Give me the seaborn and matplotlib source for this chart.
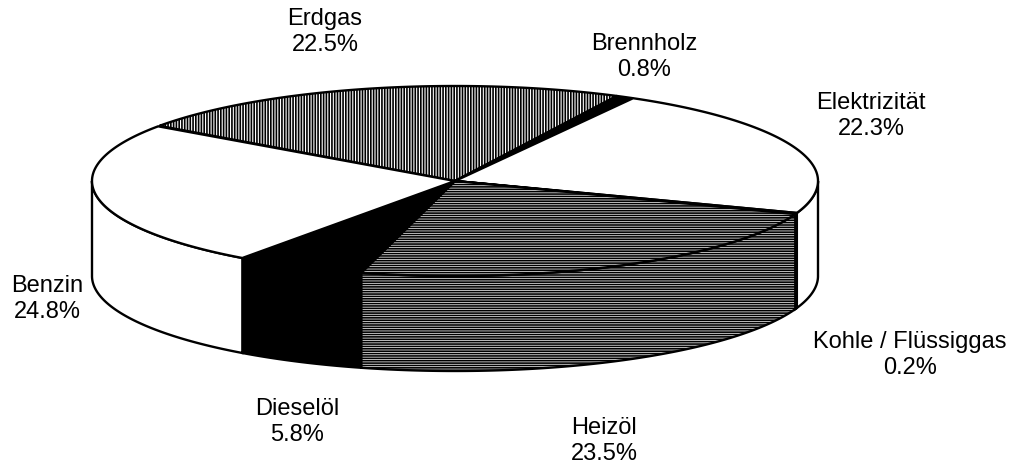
import numpy as np
import matplotlib
matplotlib.use("Agg")
import matplotlib.pyplot as plt
from matplotlib.patches import Polygon
import seaborn as sns

# Energy consumption shares (%), clockwise starting at Erdgas
categories = ["Erdgas", "Brennholz", "Elektrizität", "Kohle / Flüssiggas",
              "Heizöl", "Dieselöl", "Benzin"]
shares = [22.5, 0.8, 22.3, 0.2, 23.5, 5.8, 24.8]
pct_labels = ["22.5%", "0.8%", "22.3%", "0.2%", "23.5%", "5.8%", "24.8%"]

# fill style per slice: (facecolor, hatch)
styles = [("white", "||||||"), ("black", None), ("white", None), ("black", None),
          ("white", "-------"), ("black", None), ("white", None)]

# label anchor positions in pixels (centre of the two-line label)
label_pos = [(325, 32), (644, 57), (871, 116), (910, 355),
             (604, 441), (297, 422), (47, 299)]

sns.set_style("white")
plt.rcParams["font.family"] = ["Liberation Sans", "DejaVu Sans"]
plt.rcParams["text.color"] = "black"
plt.rcParams["hatch.linewidth"] = 1.2
plt.rcParams["hatch.color"] = "black"

W, H = 1013, 467
fig = plt.figure(figsize=(W / 100, H / 100), dpi=100)
ax = fig.add_axes([0, 0, 1, 1])
ax.set_xlim(0, W)
ax.set_ylim(H, 0)
ax.axis("off")

cx, cy, a, b, depth = 455, 181, 363, 95, 95
start = 144.5


def arc(t0, t1, n=200, dy=0):
    t = np.radians(np.linspace(t0, t1, n))
    return np.column_stack([cx + a * np.cos(t), cy - b * np.sin(t) + dy])


bounds = []
ang = start
for v in shares:
    bounds.append((ang, ang - v * 3.6))
    ang -= v * 3.6

# front side walls
for (t0, t1), (fc, hatch) in zip(bounds, styles):
    hi, lo = min(t0, 0), max(t1, -180)
    if hi <= lo:
        continue
    top = arc(hi, lo)
    bot = arc(lo, hi, dy=depth)
    ax.add_patch(Polygon(np.vstack([top, bot]), closed=True, facecolor=fc,
                         edgecolor="black", hatch=hatch, lw=1.7, zorder=1))

# top wedges
for (t0, t1), (fc, hatch) in zip(bounds, styles):
    pts = np.vstack([[cx, cy], arc(t0, t1)])
    ax.add_patch(Polygon(pts, closed=True, facecolor=fc, edgecolor="black",
                         hatch=hatch, lw=1.7, zorder=2))

for name, pct, (x, y) in zip(categories, pct_labels, label_pos):
    ax.text(x, y, f"{name}\n{pct}", ha="center", va="center",
            fontsize=17, linespacing=1.2, color="black")

fig.savefig("out.png", dpi=100)
